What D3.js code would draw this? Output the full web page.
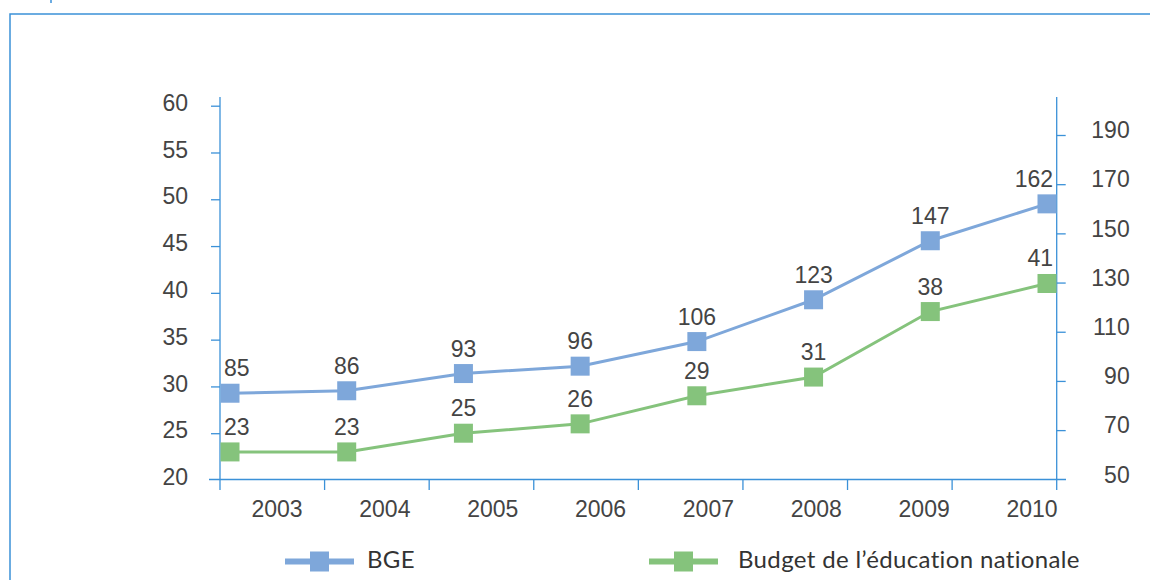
<!DOCTYPE html>
<html>
<head>
<meta charset="utf-8">
<script src="https://cdn.jsdelivr.net/npm/d3@7"></script>
<style>
  body { margin: 0; background: #fff; }
  svg { display: block; }
</style>
</head>
<body>
<svg id="chart"></svg>
<script>
// data
const years = ['2003', '2004', '2005', '2006', '2007', '2008', '2009', '2010'];
const bge = [85, 86, 93, 96, 106, 123, 147, 162];          // right axis
const education = [23, 23, 25, 26, 29, 31, 38, 41];       // left axis
const leftTicks = [20, 25, 30, 35, 40, 45, 50, 55, 60];
const rightTicks = [50, 70, 90, 110, 130, 150, 170, 190];
const legendLabels = ['BGE', 'Budget de l\u2019éducation nationale'];

const width = 1161, height = 580;
const axisColor = '#3b91d8';
const colors = {bge: '#7ea7da', edu: '#85c37c'};
const tickFont = '"Liberation Sans", Arial, sans-serif';
const tickSize = '23px';

const svg = d3.select('#chart')
  .attr('width', width)
  .attr('height', height);

// outer frame (top + left edge)
svg.append('path')
  .attr('d', 'M10,' + height + 'V14H1150')
  .attr('fill', 'none')
  .attr('stroke', axisColor)
  .attr('stroke-width', 1.5);
svg.append('line')
  .attr('x1', 51).attr('x2', 51).attr('y1', 0).attr('y2', 3)
  .attr('stroke', axisColor).attr('stroke-width', 1.5);

const plot = {left: 220, right: 1056.7, bottom: 479.5, top: 97};

// scales
const yL = d3.scaleLinear().domain([20, 60]).range([480, 105.7]);
const yR = d3.scaleLinear().domain([50, 190]).range([479.3, 135]);
const xBand = d3.scaleBand().domain(years).range([plot.left, plot.right]);
const xLabel = d3.scalePoint().domain(years).range([277, 1032]);
const xPoint = d3.scalePoint().domain(years).range([230, 1047]);

function styleText(sel) {
  sel.style('font-family', tickFont)
    .style('font-size', tickSize)
    .attr('fill', '#444');
}

// left axis
const gL = svg.append('g')
  .attr('transform', 'translate(' + plot.left + ',0)')
  .call(d3.axisLeft(yL).tickValues(leftTicks).tickSize(9).tickPadding(23));
gL.select('.domain').remove();
gL.append('line')
  .attr('y1', plot.top).attr('y2', 490)
  .attr('stroke', axisColor).attr('stroke-width', 1.3);
gL.selectAll('.tick line').attr('stroke', axisColor).attr('stroke-width', 1.3);
gL.selectAll('.tick text').attr('dy', '0.2em').call(styleText);
gL.selectAll('.tick').filter(d => d === 20).select('line').remove();

// right axis
const gR = svg.append('g')
  .attr('transform', 'translate(' + plot.right + ',0)')
  .call(d3.axisRight(yR).tickValues(rightTicks).tickSize(9));
gR.select('.domain').remove();
gR.append('line')
  .attr('y1', plot.top).attr('y2', 490)
  .attr('stroke', axisColor).attr('stroke-width', 1.3);
gR.selectAll('.tick line').attr('stroke', axisColor).attr('stroke-width', 1.3);
gR.selectAll('.tick text')
  .attr('x', 73)
  .attr('dy', '0.12em')
  .attr('text-anchor', 'end')
  .call(styleText);
gR.selectAll('.tick').filter(d => d === 50).select('line').remove();

// x axis
const gX = svg.append('g');
gX.append('line')
  .attr('x1', 209).attr('x2', 1066)
  .attr('y1', plot.bottom).attr('y2', plot.bottom)
  .attr('stroke', axisColor).attr('stroke-width', 1.3);
gX.selectAll('line.xtick')
  .data(years.slice(1))
  .enter()
  .append('line')
  .attr('class', 'xtick')
  .attr('x1', d => xBand(d)).attr('x2', d => xBand(d))
  .attr('y1', plot.bottom).attr('y2', 490)
  .attr('stroke', axisColor).attr('stroke-width', 1.3);
gX.selectAll('text')
  .data(years)
  .enter()
  .append('text')
  .attr('x', d => xLabel(d))
  .attr('y', 517)
  .attr('text-anchor', 'middle')
  .call(styleText)
  .text(d => d);

// series
const series = [
  {key: 'bge', values: bge, y: yR, color: colors.bge},
  {key: 'edu', values: education, y: yL, color: colors.edu}
];

series.forEach(s => {
  const pts = s.values.map((v, i) => ({year: years[i], v: v, i: i}));
  const line = d3.line().x(d => xPoint(d.year)).y(d => s.y(d.v));

  svg.append('path')
    .datum(pts)
    .attr('d', line)
    .attr('fill', 'none')
    .attr('stroke', s.color)
    .attr('stroke-width', 3);

  svg.selectAll('rect.m-' + s.key)
    .data(pts)
    .enter()
    .append('rect')
    .attr('class', 'm-' + s.key)
    .attr('x', d => xPoint(d.year) - 9.5)
    .attr('y', d => s.y(d.v) - 9.5)
    .attr('width', 19)
    .attr('height', 19)
    .attr('fill', s.color);

  // value labels above the markers
  svg.selectAll('text.l-' + s.key)
    .data(pts)
    .enter()
    .append('text')
    .attr('class', 'l-' + s.key)
    .attr('x', d => {
      if (d.i === 0) return xPoint(d.year) - 6;
      if (d.i === pts.length - 1) return xPoint(d.year) + 6;
      return xPoint(d.year);
    })
    .attr('y', d => s.y(d.v) - 17)
    .attr('text-anchor', d => d.i === 0 ? 'start' : (d.i === pts.length - 1 ? 'end' : 'middle'))
    .call(styleText)
    .text(d => d.v);
});

// legend
const legend = svg.append('g');
const legendItems = [
  {label: legendLabels[0], color: colors.bge, x: 285},
  {label: legendLabels[1], color: colors.edu, x: 649}
];
legendItems.forEach(it => {
  const g = legend.append('g').attr('transform', 'translate(' + it.x + ',561.5)');
  g.append('line')
    .attr('x1', 0).attr('x2', 69)
    .attr('stroke', it.color).attr('stroke-width', 6);
  g.append('rect')
    .attr('x', 25).attr('y', -10)
    .attr('width', 19).attr('height', 20)
    .attr('fill', it.color);
  g.append('text')
    .attr('x', it.x === 285 ? 82 : 89)
    .attr('y', 6.5)
    .style('font-family', 'Lato, "Open Sans", sans-serif')
    .style('font-size', '24px')
    .style('letter-spacing', '0.35px')
    .attr('fill', '#333')
    .text(it.label);
});
</script>
</body>
</html>
